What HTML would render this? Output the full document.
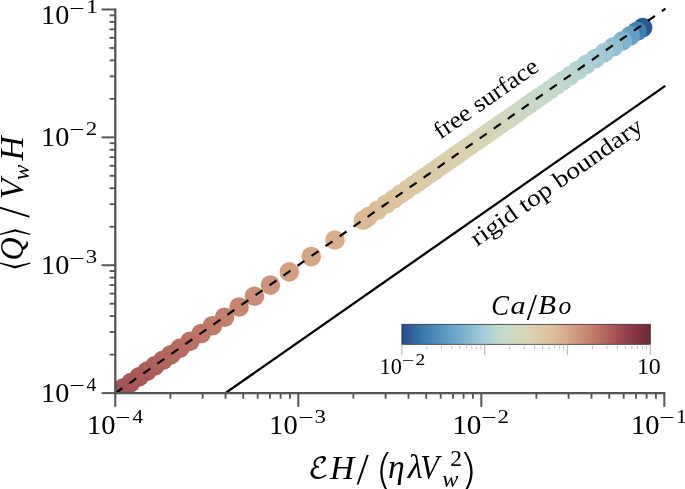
<!DOCTYPE html>
<html lang="en"><head><meta charset="utf-8"><title>Flux scaling</title>
<style>html,body{margin:0;padding:0;background:#fff}body{width:685px;height:489px;overflow:hidden}svg{display:block}text{font-family:"Liberation Serif","DejaVu Serif",serif;fill:#000}.it{font-style:italic}.xl{font-family:"DejaVu Sans","Liberation Sans",sans-serif;font-weight:200}.m{font-family:"DejaVu Math TeX Gyre","DejaVu Serif","DejaVu Sans",serif}</style></head><body>
<svg width="685" height="489" viewBox="0 0 685 489">
<rect width="685" height="489" fill="#fff"/>
<defs><clipPath id="ax"><rect x="115.30" y="0" width="569.70" height="393.10"/></clipPath>
<linearGradient id="cb" x1="0" y1="0" x2="1" y2="0">
<stop offset="0.000" stop-color="#244e8c"/>
<stop offset="0.093" stop-color="#3c7daf"/>
<stop offset="0.194" stop-color="#64a0c6"/>
<stop offset="0.333" stop-color="#a6cdd6"/>
<stop offset="0.396" stop-color="#c3dacd"/>
<stop offset="0.500" stop-color="#d9d5b6"/>
<stop offset="0.585" stop-color="#ddc5a0"/>
<stop offset="0.667" stop-color="#d6a988"/>
<stop offset="0.758" stop-color="#c4806e"/>
<stop offset="0.847" stop-color="#a85858"/>
<stop offset="0.919" stop-color="#8c3a46"/>
<stop offset="1.000" stop-color="#702634"/>
</linearGradient></defs>
<g clip-path="url(#ax)">
<circle cx="642.7" cy="27.6" r="9.8" fill="#295894"/>
<circle cx="637.0" cy="31.3" r="9.8" fill="#3f7fb1"/>
<circle cx="630.3" cy="35.7" r="9.8" fill="#64a0c6"/>
<circle cx="622.4" cy="40.9" r="9.8" fill="#81b4cd"/>
<circle cx="613.4" cy="46.7" r="9.8" fill="#94c1d2"/>
<circle cx="604.4" cy="52.6" r="9.8" fill="#9dc7d4"/>
<circle cx="595.4" cy="58.5" r="9.8" fill="#a5ccd6"/>
<circle cx="586.4" cy="64.4" r="9.8" fill="#acd0d4"/>
<circle cx="578.0" cy="70.2" r="9.8" fill="#b2d3d2"/>
<circle cx="570.0" cy="75.8" r="9.8" fill="#b9d5d0"/>
<circle cx="562.8" cy="80.8" r="9.8" fill="#bed8cf"/>
<circle cx="556.2" cy="85.4" r="9.8" fill="#c2dacd"/>
<circle cx="550.1" cy="89.7" r="9.8" fill="#c4dacc"/>
<circle cx="544.5" cy="93.6" r="9.8" fill="#c5dacb"/>
<circle cx="539.2" cy="97.3" r="9.8" fill="#c6d9ca"/>
<circle cx="534.2" cy="100.8" r="9.8" fill="#c7d9c9"/>
<circle cx="529.4" cy="104.2" r="9.8" fill="#c8d9c7"/>
<circle cx="524.7" cy="107.4" r="9.8" fill="#cad8c6"/>
<circle cx="520.1" cy="110.6" r="9.8" fill="#cbd8c4"/>
<circle cx="515.7" cy="113.7" r="9.8" fill="#cdd8c3"/>
<circle cx="511.4" cy="116.7" r="9.8" fill="#ced8c2"/>
<circle cx="507.2" cy="119.7" r="9.8" fill="#cfd7c0"/>
<circle cx="503.1" cy="122.5" r="9.8" fill="#d1d7bf"/>
<circle cx="499.2" cy="125.3" r="9.8" fill="#d2d7bd"/>
<circle cx="495.2" cy="128.0" r="9.8" fill="#d3d6bc"/>
<circle cx="491.3" cy="130.7" r="9.8" fill="#d4d6bb"/>
<circle cx="487.5" cy="133.4" r="9.8" fill="#d5d6ba"/>
<circle cx="483.7" cy="136.1" r="9.8" fill="#d6d6b9"/>
<circle cx="479.9" cy="138.7" r="9.8" fill="#d7d5b8"/>
<circle cx="476.2" cy="141.3" r="9.8" fill="#d8d5b7"/>
<circle cx="472.6" cy="143.9" r="9.8" fill="#d9d5b6"/>
<circle cx="468.9" cy="146.4" r="9.8" fill="#d9d4b4"/>
<circle cx="465.3" cy="148.9" r="9.8" fill="#d9d3b3"/>
<circle cx="461.6" cy="151.5" r="9.8" fill="#dad2b2"/>
<circle cx="457.8" cy="154.2" r="9.8" fill="#dad1b1"/>
<circle cx="454.0" cy="156.8" r="9.8" fill="#dad1b0"/>
<circle cx="450.1" cy="159.6" r="9.8" fill="#dad0af"/>
<circle cx="446.1" cy="162.4" r="9.8" fill="#dbcfad"/>
<circle cx="442.0" cy="165.2" r="9.8" fill="#dbceac"/>
<circle cx="437.8" cy="168.1" r="9.8" fill="#dbcdab"/>
<circle cx="433.5" cy="171.2" r="9.8" fill="#dbccaa"/>
<circle cx="428.9" cy="174.4" r="9.8" fill="#dbcca9"/>
<circle cx="424.0" cy="177.8" r="9.8" fill="#dccba8"/>
<circle cx="418.7" cy="181.5" r="9.8" fill="#dccaa7"/>
<circle cx="413.1" cy="185.4" r="9.8" fill="#dcc9a6"/>
<circle cx="407.1" cy="189.6" r="9.8" fill="#dcc8a4"/>
<circle cx="400.6" cy="194.1" r="9.8" fill="#ddc7a2"/>
<circle cx="393.7" cy="199.0" r="9.8" fill="#ddc5a0"/>
<circle cx="386.0" cy="204.3" r="9.8" fill="#dcc29e"/>
<circle cx="377.5" cy="210.3" r="9.8" fill="#dbbf9b"/>
<circle cx="368.4" cy="216.6" r="9.8" fill="#dbbb98"/>
<circle cx="363.3" cy="220.2" r="9.8" fill="#dab996"/>
<circle cx="335.0" cy="240.0" r="9.8" fill="#d7af8d"/>
<circle cx="311.3" cy="256.5" r="9.8" fill="#d5a787"/>
<circle cx="289.3" cy="271.9" r="9.8" fill="#d29f82"/>
<circle cx="270.4" cy="285.1" r="9.8" fill="#cd957c"/>
<circle cx="254.4" cy="296.3" r="9.8" fill="#ca8d77"/>
<circle cx="239.1" cy="307.0" r="9.8" fill="#c78672"/>
<circle cx="224.5" cy="317.2" r="9.8" fill="#c4806e"/>
<circle cx="212.4" cy="325.7" r="9.8" fill="#c07b6b"/>
<circle cx="201.2" cy="333.5" r="9.8" fill="#bd7668"/>
<circle cx="189.9" cy="341.4" r="9.8" fill="#ba7166"/>
<circle cx="179.8" cy="348.4" r="9.8" fill="#b76d63"/>
<circle cx="170.8" cy="354.7" r="9.8" fill="#b46961"/>
<circle cx="162.9" cy="360.2" r="9.8" fill="#b1655f"/>
<circle cx="154.9" cy="365.8" r="9.8" fill="#af625d"/>
<circle cx="146.9" cy="371.4" r="9.8" fill="#ac5e5b"/>
<circle cx="139.0" cy="376.9" r="9.8" fill="#aa5b59"/>
<circle cx="130.9" cy="382.6" r="9.8" fill="#a75757"/>
<circle cx="123.0" cy="388.1" r="9.8" fill="#a45456"/>
<circle cx="115.3" cy="393.5" r="9.8" fill="#a15154"/>
</g>
<line x1="226.3" y1="392.5" x2="664.3" y2="86.5" stroke="#000" stroke-width="2.3" stroke-linecap="square"/>
<line x1="115.3" y1="393.1" x2="665.5" y2="8.6" stroke="#000" stroke-width="2.2" stroke-dasharray="8.5 8.6" />
<g stroke="#555555" fill="none">
<line x1="115.30" y1="8.4" x2="115.30" y2="394.3" stroke-width="2.3"/>
<line x1="114.15" y1="393.10" x2="665.4" y2="393.10" stroke-width="2.4"/>
<line x1="115.30" y1="393.10" x2="115.30" y2="406.90" stroke-width="2"/>
<line x1="115.30" y1="393.10" x2="101.50" y2="393.10" stroke-width="2"/>
<line x1="298.30" y1="393.10" x2="298.30" y2="406.90" stroke-width="2"/>
<line x1="115.30" y1="265.23" x2="101.50" y2="265.23" stroke-width="2"/>
<line x1="481.30" y1="393.10" x2="481.30" y2="406.90" stroke-width="2"/>
<line x1="115.30" y1="137.36" x2="101.50" y2="137.36" stroke-width="2"/>
<line x1="664.30" y1="393.10" x2="664.30" y2="406.90" stroke-width="2"/>
<line x1="115.30" y1="9.49" x2="101.50" y2="9.49" stroke-width="2"/>
<line x1="170.39" y1="393.10" x2="170.39" y2="398.80" stroke-width="1.85"/>
<line x1="115.30" y1="354.61" x2="109.60" y2="354.61" stroke-width="1.85"/>
<line x1="202.61" y1="393.10" x2="202.61" y2="398.80" stroke-width="1.85"/>
<line x1="115.30" y1="332.09" x2="109.60" y2="332.09" stroke-width="1.85"/>
<line x1="225.48" y1="393.10" x2="225.48" y2="398.80" stroke-width="1.85"/>
<line x1="115.30" y1="316.11" x2="109.60" y2="316.11" stroke-width="1.85"/>
<line x1="243.21" y1="393.10" x2="243.21" y2="398.80" stroke-width="1.85"/>
<line x1="115.30" y1="303.72" x2="109.60" y2="303.72" stroke-width="1.85"/>
<line x1="257.70" y1="393.10" x2="257.70" y2="398.80" stroke-width="1.85"/>
<line x1="115.30" y1="293.60" x2="109.60" y2="293.60" stroke-width="1.85"/>
<line x1="269.95" y1="393.10" x2="269.95" y2="398.80" stroke-width="1.85"/>
<line x1="115.30" y1="285.04" x2="109.60" y2="285.04" stroke-width="1.85"/>
<line x1="280.57" y1="393.10" x2="280.57" y2="398.80" stroke-width="1.85"/>
<line x1="115.30" y1="277.62" x2="109.60" y2="277.62" stroke-width="1.85"/>
<line x1="289.93" y1="393.10" x2="289.93" y2="398.80" stroke-width="1.85"/>
<line x1="115.30" y1="271.08" x2="109.60" y2="271.08" stroke-width="1.85"/>
<line x1="353.39" y1="393.10" x2="353.39" y2="398.80" stroke-width="1.85"/>
<line x1="115.30" y1="226.74" x2="109.60" y2="226.74" stroke-width="1.85"/>
<line x1="385.61" y1="393.10" x2="385.61" y2="398.80" stroke-width="1.85"/>
<line x1="115.30" y1="204.22" x2="109.60" y2="204.22" stroke-width="1.85"/>
<line x1="408.48" y1="393.10" x2="408.48" y2="398.80" stroke-width="1.85"/>
<line x1="115.30" y1="188.24" x2="109.60" y2="188.24" stroke-width="1.85"/>
<line x1="426.21" y1="393.10" x2="426.21" y2="398.80" stroke-width="1.85"/>
<line x1="115.30" y1="175.85" x2="109.60" y2="175.85" stroke-width="1.85"/>
<line x1="440.70" y1="393.10" x2="440.70" y2="398.80" stroke-width="1.85"/>
<line x1="115.30" y1="165.73" x2="109.60" y2="165.73" stroke-width="1.85"/>
<line x1="452.95" y1="393.10" x2="452.95" y2="398.80" stroke-width="1.85"/>
<line x1="115.30" y1="157.17" x2="109.60" y2="157.17" stroke-width="1.85"/>
<line x1="463.57" y1="393.10" x2="463.57" y2="398.80" stroke-width="1.85"/>
<line x1="115.30" y1="149.75" x2="109.60" y2="149.75" stroke-width="1.85"/>
<line x1="472.93" y1="393.10" x2="472.93" y2="398.80" stroke-width="1.85"/>
<line x1="115.30" y1="143.21" x2="109.60" y2="143.21" stroke-width="1.85"/>
<line x1="536.39" y1="393.10" x2="536.39" y2="398.80" stroke-width="1.85"/>
<line x1="115.30" y1="98.87" x2="109.60" y2="98.87" stroke-width="1.85"/>
<line x1="568.61" y1="393.10" x2="568.61" y2="398.80" stroke-width="1.85"/>
<line x1="115.30" y1="76.35" x2="109.60" y2="76.35" stroke-width="1.85"/>
<line x1="591.48" y1="393.10" x2="591.48" y2="398.80" stroke-width="1.85"/>
<line x1="115.30" y1="60.37" x2="109.60" y2="60.37" stroke-width="1.85"/>
<line x1="609.21" y1="393.10" x2="609.21" y2="398.80" stroke-width="1.85"/>
<line x1="115.30" y1="47.98" x2="109.60" y2="47.98" stroke-width="1.85"/>
<line x1="623.70" y1="393.10" x2="623.70" y2="398.80" stroke-width="1.85"/>
<line x1="115.30" y1="37.86" x2="109.60" y2="37.86" stroke-width="1.85"/>
<line x1="635.95" y1="393.10" x2="635.95" y2="398.80" stroke-width="1.85"/>
<line x1="115.30" y1="29.30" x2="109.60" y2="29.30" stroke-width="1.85"/>
<line x1="646.57" y1="393.10" x2="646.57" y2="398.80" stroke-width="1.85"/>
<line x1="115.30" y1="21.88" x2="109.60" y2="21.88" stroke-width="1.85"/>
<line x1="655.93" y1="393.10" x2="655.93" y2="398.80" stroke-width="1.85"/>
<line x1="115.30" y1="15.34" x2="109.60" y2="15.34" stroke-width="1.85"/>
</g>
<rect x="401.9" y="324.3" width="248.4" height="20.0" fill="url(#cb)" stroke="#333" stroke-width="0.8"/>
<g stroke="#bdbdbd">
<line x1="401.90" y1="344.7" x2="401.90" y2="355.3" stroke-width="1.2"/>
<line x1="484.70" y1="344.7" x2="484.70" y2="355.3" stroke-width="1.2"/>
<line x1="567.50" y1="344.7" x2="567.50" y2="355.3" stroke-width="1.2"/>
<line x1="650.30" y1="344.7" x2="650.30" y2="355.3" stroke-width="1.2"/>
<line x1="426.83" y1="344.7" x2="426.83" y2="349.6" stroke-width="0.8"/>
<line x1="441.41" y1="344.7" x2="441.41" y2="349.6" stroke-width="0.8"/>
<line x1="451.75" y1="344.7" x2="451.75" y2="349.6" stroke-width="0.8"/>
<line x1="459.77" y1="344.7" x2="459.77" y2="349.6" stroke-width="0.8"/>
<line x1="466.33" y1="344.7" x2="466.33" y2="349.6" stroke-width="0.8"/>
<line x1="471.87" y1="344.7" x2="471.87" y2="349.6" stroke-width="0.8"/>
<line x1="476.68" y1="344.7" x2="476.68" y2="349.6" stroke-width="0.8"/>
<line x1="480.91" y1="344.7" x2="480.91" y2="349.6" stroke-width="0.8"/>
<line x1="509.63" y1="344.7" x2="509.63" y2="349.6" stroke-width="0.8"/>
<line x1="524.21" y1="344.7" x2="524.21" y2="349.6" stroke-width="0.8"/>
<line x1="534.55" y1="344.7" x2="534.55" y2="349.6" stroke-width="0.8"/>
<line x1="542.57" y1="344.7" x2="542.57" y2="349.6" stroke-width="0.8"/>
<line x1="549.13" y1="344.7" x2="549.13" y2="349.6" stroke-width="0.8"/>
<line x1="554.67" y1="344.7" x2="554.67" y2="349.6" stroke-width="0.8"/>
<line x1="559.48" y1="344.7" x2="559.48" y2="349.6" stroke-width="0.8"/>
<line x1="563.71" y1="344.7" x2="563.71" y2="349.6" stroke-width="0.8"/>
<line x1="592.43" y1="344.7" x2="592.43" y2="349.6" stroke-width="0.8"/>
<line x1="607.01" y1="344.7" x2="607.01" y2="349.6" stroke-width="0.8"/>
<line x1="617.35" y1="344.7" x2="617.35" y2="349.6" stroke-width="0.8"/>
<line x1="625.37" y1="344.7" x2="625.37" y2="349.6" stroke-width="0.8"/>
<line x1="631.93" y1="344.7" x2="631.93" y2="349.6" stroke-width="0.8"/>
<line x1="637.47" y1="344.7" x2="637.47" y2="349.6" stroke-width="0.8"/>
<line x1="642.28" y1="344.7" x2="642.28" y2="349.6" stroke-width="0.8"/>
<line x1="646.51" y1="344.7" x2="646.51" y2="349.6" stroke-width="0.8"/>
</g>
<text id="t_y1_10" x="41.08" y="24.10" font-size="28.00" textLength="28.21" lengthAdjust="spacingAndGlyphs">10</text>
<text id="t_y1_m" x="69.36" y="14.70" font-size="19.60" textLength="15.39" lengthAdjust="spacingAndGlyphs">−</text>
<text id="t_y1_d" x="85.92" y="13.16" font-size="19.60" textLength="12.11" lengthAdjust="spacingAndGlyphs">1</text>
<text id="t_y2_10" x="41.08" y="145.96" font-size="28.00" textLength="28.21" lengthAdjust="spacingAndGlyphs">10</text>
<text id="t_y2_m" x="69.36" y="135.76" font-size="19.60" textLength="15.39" lengthAdjust="spacingAndGlyphs">−</text>
<text id="t_y2_d" x="85.68" y="134.70" font-size="19.60" textLength="11.46" lengthAdjust="spacingAndGlyphs">2</text>
<text id="t_y3_10" x="41.08" y="274.04" font-size="28.00" textLength="28.21" lengthAdjust="spacingAndGlyphs">10</text>
<text id="t_y3_m" x="69.36" y="264.64" font-size="19.60" textLength="15.39" lengthAdjust="spacingAndGlyphs">−</text>
<text id="t_y3_d" x="85.68" y="262.78" font-size="19.60" textLength="11.46" lengthAdjust="spacingAndGlyphs">3</text>
<text id="t_y4_10" x="41.08" y="401.92" font-size="28.00" textLength="28.21" lengthAdjust="spacingAndGlyphs">10</text>
<text id="t_y4_m" x="69.36" y="391.72" font-size="19.60" textLength="15.39" lengthAdjust="spacingAndGlyphs">−</text>
<text id="t_y4_d" x="86.48" y="390.66" font-size="19.60">4</text>
<text id="t_x4_10" x="87.04" y="434.00" font-size="28.00" textLength="28.51" lengthAdjust="spacingAndGlyphs">10</text>
<text id="t_x4_m" x="115.32" y="423.80" font-size="19.60" textLength="15.39" lengthAdjust="spacingAndGlyphs">−</text>
<text id="t_x4_d" x="132.44" y="422.74" font-size="19.60" textLength="10.63" lengthAdjust="spacingAndGlyphs">4</text>
<text id="t_x3_10" x="269.14" y="434.00" font-size="28.00" textLength="28.51" lengthAdjust="spacingAndGlyphs">10</text>
<text id="t_x3_m" x="298.22" y="423.80" font-size="19.60" textLength="15.39" lengthAdjust="spacingAndGlyphs">−</text>
<text id="t_x3_d" x="314.54" y="422.74" font-size="19.60" textLength="11.46" lengthAdjust="spacingAndGlyphs">3</text>
<text id="t_x2_10" x="452.16" y="434.00" font-size="28.00" textLength="29.23" lengthAdjust="spacingAndGlyphs">10</text>
<text id="t_x2_m" x="481.24" y="423.80" font-size="19.60" textLength="15.33" lengthAdjust="spacingAndGlyphs">−</text>
<text id="t_x2_d" x="497.56" y="422.74" font-size="19.60" textLength="11.46" lengthAdjust="spacingAndGlyphs">2</text>
<text id="t_x1_10" x="631.04" y="434.00" font-size="28.00" textLength="28.51" lengthAdjust="spacingAndGlyphs">10</text>
<text id="t_x1_m" x="659.32" y="423.80" font-size="19.60" textLength="15.39" lengthAdjust="spacingAndGlyphs">−</text>
<text id="t_x1_d" x="675.88" y="423.14" font-size="19.60" textLength="11.38" lengthAdjust="spacingAndGlyphs">1</text>
<text id="t_c2_10" x="379.62" y="373.92" font-size="22.40" textLength="22.29" lengthAdjust="spacingAndGlyphs">10</text>
<text id="t_c2_m" x="401.92" y="365.68" font-size="15.68" textLength="12.29" lengthAdjust="spacingAndGlyphs">−</text>
<text id="t_c2_d" x="415.62" y="364.91" font-size="15.68" textLength="9.74" lengthAdjust="spacingAndGlyphs">2</text>
<text id="t_c10" x="636.92" y="373.98" font-size="22.40" textLength="23.90" lengthAdjust="spacingAndGlyphs">10</text>
<text id="t_cab_C" class="it" x="491.20" y="314.60" font-size="28.68" textLength="17.73" lengthAdjust="spacingAndGlyphs">C</text>
<text id="t_cab_a" class="it" x="510.60" y="314.20" font-size="25.67" textLength="15.07" lengthAdjust="spacingAndGlyphs">a</text>
<text id="t_cab_s" x="526.80" y="319.60" font-size="37.08">/</text>
<text id="t_cab_B" class="it" x="538.00" y="314.20" font-size="27.00" textLength="18.02" lengthAdjust="spacingAndGlyphs">B</text>
<text id="t_cab_o" class="it" x="558.40" y="314.20" font-size="25.67">o</text>
<text id="t_xl_E" class="m" x="308.00" y="477.66" font-size="28.82" textLength="21.11" lengthAdjust="spacingAndGlyphs">ℰ</text>
<text id="t_xl_H" class="it" x="329.88" y="478.78" font-size="33.60">H</text>
<text id="t_xl_s" class="xl" x="355.94" y="481.44" font-size="36.00" textLength="13.41" lengthAdjust="spacingAndGlyphs">/</text>
<text id="t_xl_lp" class="xl" x="375.00" y="486.20" font-size="44.00" textLength="18.60" lengthAdjust="spacingAndGlyphs">(</text>
<text id="t_xl_eta" class="it" x="387.96" y="478.30" font-size="33.60">η</text>
<text id="t_xl_lam" class="it" x="407.76" y="478.30" font-size="33.60" textLength="14.92" lengthAdjust="spacingAndGlyphs">λ</text>
<text id="t_xl_V" class="it" x="420.20" y="478.46" font-size="33.68" textLength="18.65" lengthAdjust="spacingAndGlyphs">V</text>
<text id="t_xl_w" class="it" x="442.28" y="486.82" font-size="23.50" textLength="16.09" lengthAdjust="spacingAndGlyphs">w</text>
<text id="t_xl_2" x="450.34" y="466.00" font-size="23.50">2</text>
<text id="t_xl_rp" class="xl" x="458.28" y="486.20" font-size="44.00" textLength="19.60" lengthAdjust="spacingAndGlyphs">)</text>
<text id="t_an1" transform="translate(440.2,139.8) rotate(-34.94)" font-size="23.8" textLength="122.0" lengthAdjust="spacingAndGlyphs">free surface</text>
<text id="t_an2" transform="translate(477.0,246.8) rotate(-34.94)" font-size="23.8" textLength="204.5" lengthAdjust="spacingAndGlyphs">rigid top boundary</text>
<g transform="translate(23.4,268.5) rotate(-90)">
<text id="t_yl_la" class="m" x="-1.50" y="1.90" font-size="36.00" textLength="8.50" lengthAdjust="spacingAndGlyphs">⟨</text>
<text id="t_yl_Q" class="it" x="8.00" y="0.00" font-size="33.60" textLength="23.00" lengthAdjust="spacingAndGlyphs">Q</text>
<text id="t_yl_ra" class="m" x="32.50" y="1.90" font-size="36.00" textLength="8.50" lengthAdjust="spacingAndGlyphs">⟩</text>
<text id="t_yl_s" class="xl" x="50.30" y="2.90" font-size="39.00">/</text>
<text id="t_yl_V" class="it" x="69.20" y="0.00" font-size="33.60">V</text>
<text id="t_yl_w" class="it" x="88.30" y="5.20" font-size="23.50">w</text>
<text id="t_yl_H" class="it" x="108.00" y="0.00" font-size="33.60">H</text>
</g>
</svg></body></html>
